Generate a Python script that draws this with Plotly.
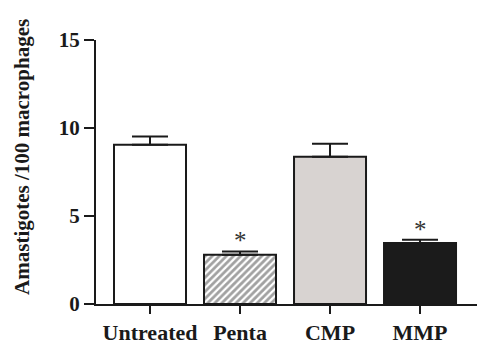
import plotly.graph_objects as go

categories = ["Untreated", "Penta", "CMP", "MMP"]
values = [9.05, 2.80, 8.37, 3.47]
errors = [0.47, 0.19, 0.74, 0.18]
significant = [False, True, False, True]
y_ticks = [0, 5, 10, 15]

fill_colors = ["#ffffff", "#ffffff", "#d8d3d1", "#1b1b1b"]
pattern_shapes = ["", "/", "", ""]

FONT = "Liberation Serif"
INK = "#1a1a1a"

fig = go.Figure()
fig.add_trace(go.Bar(
    x=categories,
    y=values,
    width=0.8,
    marker=dict(
        color=fill_colors,
        line=dict(color=INK, width=2),
        pattern=dict(shape=pattern_shapes, fgcolor="#000000", bgcolor="#ffffff",
                     size=5, solidity=0.55),
    ),
    error_y=dict(type="data", symmetric=False, array=errors,
                 arrayminus=[0] * len(errors), color=INK,
                 thickness=2, width=18),
    showlegend=False,
))

for c, v, e, s in zip(categories, values, errors, significant):
    if s:
        fig.add_annotation(x=c, y=v + e, text="*", showarrow=False,
                           yanchor="bottom", yshift=-5,
                           font=dict(family=FONT, size=25, color="#333333"))

fig.add_annotation(xref="paper", yref="paper", x=-0.231, y=0.557,
                   text="Amastigotes /100 macrophages", textangle=-90,
                   showarrow=False, xanchor="left", yanchor="middle",
                   font=dict(family=FONT, size=21, color=INK, weight="bold"))

fig.update_layout(
    width=492, height=355,
    margin=dict(l=88, r=23, t=32, b=59),
    plot_bgcolor="white", paper_bgcolor="white",
    font=dict(family=FONT, color=INK),
)
fig.update_xaxes(
    range=[-0.6, 3.633], showline=True, linecolor=INK, linewidth=2,
    ticks="outside", ticklen=8, tickwidth=2, tickcolor=INK,
    tickfont=dict(family=FONT, size=22, color=INK, weight="bold"),
    showgrid=False, zeroline=False,
)
fig.update_yaxes(
    range=[0, 15], tickvals=y_ticks, showline=True, linecolor=INK,
    linewidth=2, ticks="outside", ticklen=10, tickwidth=2, tickcolor=INK,
    tickfont=dict(family=FONT, size=21, color=INK, weight="bold"),
    showgrid=False, zeroline=False,
)

fig.write_html("out.html")
